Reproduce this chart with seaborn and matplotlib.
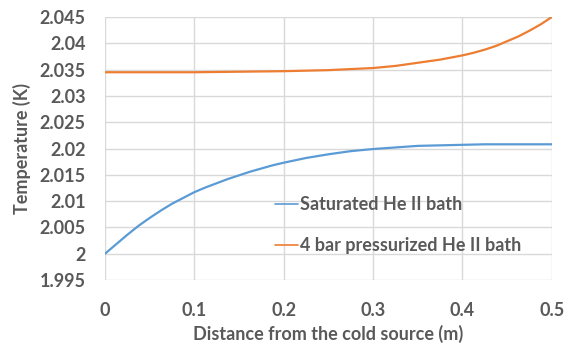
import numpy as np
import pandas as pd
import seaborn as sns
import matplotlib
matplotlib.use("Agg")
import matplotlib.pyplot as plt

# Saturated bath: distance (m) and temperature (K)
sat_x = [0.0, 0.0125, 0.025, 0.0375, 0.05, 0.0625, 0.075, 0.0875, 0.1, 0.1125, 0.125,
         0.1375, 0.15, 0.1625, 0.175, 0.1875, 0.2, 0.225, 0.25, 0.275, 0.3, 0.325,
         0.35, 0.375, 0.4, 0.425, 0.45, 0.475, 0.5]
sat_T = [2.0000, 2.0018, 2.0036, 2.0053, 2.0068, 2.0082, 2.0095, 2.0106, 2.0117, 2.0126,
         2.0134, 2.0142, 2.0149, 2.0156, 2.0162, 2.0168, 2.0173, 2.0182, 2.0189, 2.0195,
         2.0199, 2.0202, 2.0205, 2.0206, 2.0207, 2.0208, 2.0208, 2.0208, 2.0208]

# 4 bar pressurized bath: distance (m) and temperature (K)
pres_x = [0.0, 0.05, 0.1, 0.15, 0.2, 0.225, 0.25, 0.275, 0.3, 0.325, 0.3375, 0.35,
          0.3625, 0.375, 0.3875, 0.4, 0.4125, 0.425, 0.4375, 0.45, 0.4625, 0.475,
          0.4875, 0.5]
pres_T = [2.0345, 2.0345, 2.0345, 2.0346, 2.0347, 2.0348, 2.0349, 2.0351, 2.0353, 2.0357,
          2.0360, 2.0363, 2.0366, 2.0369, 2.0373, 2.0377, 2.0382, 2.0388, 2.0395, 2.0404,
          2.0413, 2.0424, 2.0436, 2.0450]

series_names = ["Saturated He II bath", "4 bar pressurized He II bath"]
x_ticks = [0, 0.1, 0.2, 0.3, 0.4, 0.5]
x_tick_labels = ["0", "0.1", "0.2", "0.3", "0.4", "0.5"]
y_ticks = [1.995, 2.0, 2.005, 2.01, 2.015, 2.02, 2.025, 2.03, 2.035, 2.04, 2.045]
y_tick_labels = ["1.995", "2", "2.005", "2.01", "2.015", "2.02", "2.025", "2.03",
                 "2.035", "2.04", "2.045"]

df = pd.concat([
    pd.DataFrame({"x": sat_x, "T": sat_T, "series": series_names[0]}),
    pd.DataFrame({"x": pres_x, "T": pres_T, "series": series_names[1]}),
])

sns.set_theme(style="white")
plt.rcParams["font.family"] = ["Lato", "DejaVu Sans"]
text_color = "#595959"
grid_color = "#d9d9d9"

fig = plt.figure(figsize=(5.66, 3.45), dpi=100)
ax = fig.add_axes([0.1855, 0.1884, 0.7895, 0.7623])

sns.lineplot(data=df, x="x", y="T", hue="series", hue_order=series_names,
             palette=["#5B9BD5", "#ED7D31"], linewidth=1.6, ax=ax)

ax.set_xlim(0, 0.5)
ax.set_ylim(1.995, 2.045)
ax.set_xticks(x_ticks)
ax.set_xticklabels(x_tick_labels)
ax.set_yticks(y_ticks)
ax.set_yticklabels(y_tick_labels)
ax.grid(True, color=grid_color, linewidth=1.0)
ax.set_axisbelow(True)
for s in ax.spines.values():
    s.set_visible(False)

ax.tick_params(axis="both", length=0, labelsize=13, colors=text_color)
ax.tick_params(axis="x", pad=16)
ax.tick_params(axis="y", pad=14)
for lab in ax.get_xticklabels() + ax.get_yticklabels():
    lab.set_fontweight("bold")

ax.set_xlabel("Distance from the cold source (m)", fontsize=13, fontweight="bold",
              color=text_color, labelpad=4)
ax.set_ylabel("Temperature (K)", fontsize=13, fontweight="bold",
              color=text_color, labelpad=6)

leg = ax.legend(loc="upper left", bbox_to_anchor=(0.38, 0.32), frameon=False,
                fontsize=13, handlelength=1.3, handletextpad=0.1, labelspacing=1.35,
                borderaxespad=0, borderpad=0)
for t in leg.get_texts():
    t.set_color(text_color)
    t.set_fontweight("bold")
for h in leg.get_lines():
    h.set_linewidth(1.2)

fig.savefig("out.png", dpi=100)
